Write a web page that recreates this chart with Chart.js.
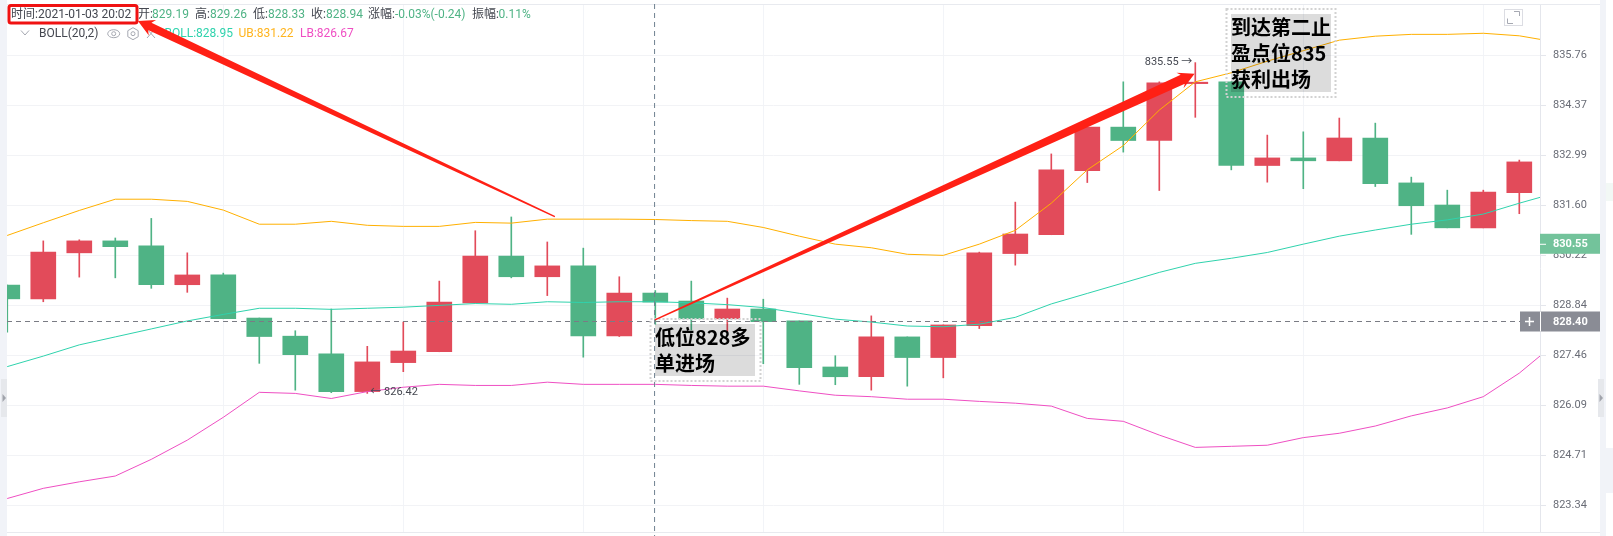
<!DOCTYPE html>
<html>
<head>
<meta charset="utf-8">
<title>BOLL candles</title>
<script src="https://cdn.jsdelivr.net/npm/chart.js@4/dist/chart.umd.min.js"></script>
<style>
html, body { margin: 0; padding: 0; background: #fff; overflow: hidden; }
canvas { display: block; }
</style>
</head>
<body>
<canvas id="klineCanvas" width="1613" height="536"></canvas>
<script>
// candle values, index 0 is the leftmost (half cut off) candle
const opens = [829.41,829.03,830.30,830.63,830.49,829.42,829.69,828.50,828.00,827.51,826.47,827.27,827.57,828.92,830.21,829.64,829.94,828.01,829.19,828.97,828.48,828.75,828.42,827.15,826.88,827.98,827.41,828.29,830.28,830.80,832.57,833.77,833.40,834.97,835.02,832.71,832.92,832.84,833.47,832.23,831.62,830.99,831.96];
const closes = [829.03,830.32,830.63,830.47,829.42,829.69,828.48,827.99,827.49,826.47,827.29,827.59,828.94,830.21,829.64,829.94,828.01,829.19,828.94,828.48,828.75,828.40,827.13,826.88,827.98,827.41,828.31,830.30,830.82,832.59,833.77,833.40,834.99,835.01,832.71,832.92,832.84,833.47,832.21,831.60,830.99,831.98,832.81];
const highs = [829.41,830.63,830.66,830.71,831.25,830.30,829.74,828.50,828.15,828.75,827.72,828.39,829.52,830.91,831.29,830.60,830.43,829.64,829.26,829.52,829.05,829.02,828.42,827.46,828.56,827.98,828.31,830.32,831.70,833.03,833.77,835.02,835.02,835.55,835.02,833.55,833.64,834.02,833.88,832.39,832.03,832.03,832.86];
const lows = [828.11,828.95,829.63,829.61,829.32,829.21,828.48,827.25,826.51,826.44,826.42,827.02,827.57,828.92,829.61,829.12,827.42,827.99,828.33,828.17,828.12,827.24,826.67,826.66,826.51,826.62,826.85,828.21,829.96,830.80,832.24,833.08,832.02,834.04,832.59,832.25,832.07,832.84,832.13,830.81,830.99,830.99,831.38];

// BOLL(20,2), these run one step past both ends of the candles and get clipped
const upperBand = [830.43,830.78,831.13,831.47,831.78,831.78,831.72,831.48,831.09,831.09,831.17,831.06,831.03,831.03,831.14,831.12,831.23,831.23,831.23,831.22,831.19,831.17,831.00,830.76,830.54,830.44,830.26,830.23,830.54,830.92,831.67,832.59,833.26,834.24,835.02,835.27,835.59,835.88,836.17,836.28,836.33,836.33,836.36,836.29,836.12];
const midBand = [826.87,827.16,827.45,827.76,827.98,828.20,828.42,828.60,828.77,828.77,828.74,828.77,828.80,828.85,828.90,828.88,828.95,828.93,828.95,828.95,828.92,828.87,828.79,828.63,828.47,828.39,828.28,828.26,828.33,828.52,828.89,829.18,829.47,829.76,830.01,830.15,830.31,830.54,830.76,830.93,831.09,831.21,831.37,831.67,831.95];
const lowerBand = [823.23,823.52,823.80,823.98,824.14,824.60,825.13,825.76,826.45,826.42,826.28,826.47,826.59,826.67,826.64,826.64,826.73,826.67,826.67,826.67,826.64,826.62,826.62,826.49,826.37,826.33,826.26,826.26,826.20,826.15,826.07,825.73,825.65,825.27,824.93,824.96,824.99,825.20,825.32,825.52,825.80,826.02,826.33,826.98,827.80];

const priceTicks = [835.76,834.37,832.99,831.60,830.22,828.84,827.46,826.09,824.71,823.34];
const timeTicks = [6,11,16,21,26,31,36,41];
const lastPrice = 830.55;
const crossPrice = 828.40;
const crossIndex = 17.98;
const maxMark = { index: 33, price: 835.55 };
const minMark = { index: 10, price: 826.42 };
// [tail index, tail price, tip index, tip price]
const arrowLines = [
    [15.21, 831.30, 3.63, 836.70],
    [17.99, 828.45, 32.98, 835.24],
];
const arrowNecks = [4, 5];

const RED = "#e24b5a";
const GREEN = "#4fb385";
const UI_FONT = 'Roboto, "Noto Sans CJK SC", sans-serif';
const NOTE_FONT = 'bold 20px "Noto Sans CJK SC", sans-serif';

const candleColors = opens.map((o, i) => (closes[i] >= o ? RED : GREEN));
const bandPoints = (values) => values.map((y, i) => ({ x: i - 1, y }));

function drawText(ctx, text, x, y, color, font, align) {
    ctx.fillStyle = color;
    ctx.font = font || "12px " + UI_FONT;
    ctx.textAlign = align || "left";
    ctx.textBaseline = "middle";
    ctx.fillText(text, x, y);
}

function drawNote(ctx, lines, fill, border) {
    // the grey note sits on the chart like a marker, candles show through it
    ctx.save();
    ctx.globalCompositeOperation = "multiply";
    ctx.fillStyle = "#dcdcdc";
    ctx.fillRect(fill.x, fill.y, fill.w, fill.h);
    ctx.restore();
    ctx.save();
    ctx.strokeStyle = "#d2d2d2";
    ctx.lineWidth = 2;
    ctx.setLineDash([2, 2]);
    ctx.strokeRect(border.x, border.y, border.w, border.h);
    ctx.restore();
    lines.forEach((line, i) => {
        drawText(ctx, line, fill.x, fill.y + 13 + i * 26, "#000", NOTE_FONT);
    });
}

function drawArrow(ctx, x0, y0, x1, y1, neck) {
    const len = Math.hypot(x1 - x0, y1 - y0);
    const ux = (x1 - x0) / len, uy = (y1 - y0) / len;
    const nx = -uy, ny = ux;
    const at = (along, side) => [x1 - ux * along + nx * side, y1 - uy * along + ny * side];
    const pts = [
        [x0 + nx * 0.6, y0 + ny * 0.6],
        at(13, neck), at(16, 8.5), [x1, y1], at(16, -8.5), at(13, -neck),
        [x0 - nx * 0.6, y0 - ny * 0.6],
    ];
    ctx.fillStyle = "#ff2015";
    ctx.beginPath();
    pts.forEach((p, i) => (i ? ctx.lineTo(p[0], p[1]) : ctx.moveTo(p[0], p[1])));
    ctx.closePath();
    ctx.fill();
}

function drawHeader(ctx) {
    const grey = "#444750";
    drawText(ctx, "时间:2021-01-03 20:02", 11, 15, grey);
    [
        ["开:", 138, "829.19", 152],
        ["高:", 195, "829.26", 210],
        ["低:", 253, "828.33", 268],
        ["收:", 311, "828.94", 326],
        ["涨幅:", 368, "-0.03%(-0.24)", 395],
        ["振幅:", 472, "0.11%", 498.5],
    ].forEach((item) => {
        drawText(ctx, item[0], item[1], 15, grey);
        drawText(ctx, item[2], item[3], 15, GREEN);
    });
    drawText(ctx, "BOLL(20,2)", 39, 33.5, grey);
    drawText(ctx, "BOLL:828.95", 164.5, 33.5, "#2fd3ad");
    drawText(ctx, "UB:831.22", 238.5, 33.5, "#ffb41e");
    drawText(ctx, "LB:826.67", 300, 33.5, "#ef4fc3");

    ctx.strokeStyle = "#a6a9b2";
    ctx.lineWidth = 1;
    ctx.beginPath(); // chevron
    ctx.moveTo(21, 30.5); ctx.lineTo(25, 35); ctx.lineTo(29, 30.5);
    ctx.stroke();
    ctx.beginPath(); // eye
    ctx.ellipse(113.7, 33.7, 6, 4, 0, 0, Math.PI * 2);
    ctx.stroke();
    ctx.beginPath();
    ctx.arc(113.7, 33.7, 2, 0, Math.PI * 2);
    ctx.stroke();
    ctx.beginPath(); // settings
    for (let i = 0; i < 6; i++) {
        const a = Math.PI / 6 + i * Math.PI / 3;
        ctx.lineTo(133 + 6 * Math.cos(a), 33.7 + 6 * Math.sin(a));
    }
    ctx.closePath();
    ctx.stroke();
    ctx.beginPath();
    ctx.arc(133, 33.7, 2, 0, Math.PI * 2);
    ctx.stroke();
    ctx.beginPath(); // close icon, the arrow covers most of it
    ctx.moveTo(147, 29); ctx.lineTo(155, 38);
    ctx.moveTo(155, 29); ctx.lineTo(147, 38);
    ctx.stroke();

    ctx.strokeStyle = "#f01212"; // the hand drawn box around the time
    ctx.lineWidth = 3;
    ctx.beginPath();
    ctx.roundRect(9, 5.5, 128, 17.5, 2);
    ctx.stroke();
}

const chromePlugin = {
    id: "chrome",
    beforeDraw(chart) {
        const ctx = chart.ctx;
        ctx.save();
        ctx.fillStyle = "#fff";
        ctx.fillRect(0, 0, 1613, 536);
        ctx.fillStyle = "#f1f3f8";
        ctx.fillRect(0, 0, 7, 536);
        ctx.fillRect(1600, 0, 6, 536);
        ctx.fillRect(1606, 448, 7, 45);
        ctx.fillStyle = "#f2f8f5";
        ctx.fillRect(1606, 183, 7, 18);
        ctx.restore();
    },
    afterDraw(chart) {
        const ctx = chart.ctx;
        const x = chart.scales.x, y = chart.scales.y;
        const area = chart.chartArea;
        ctx.save();

        ctx.fillStyle = "#e8eaef";
        ctx.fillRect(7, 4, 1593, 1);
        ctx.fillRect(7, 532, 1593, 1);

        // side handles
        [[1, 6], [1598, 6]].forEach((h) => {
            ctx.fillStyle = "#e6e8ec";
            ctx.fillRect(h[0], 379, h[1], 38);
            ctx.fillStyle = "#a0a3ab";
            ctx.beginPath();
            ctx.moveTo(h[0] + 1.5, 394);
            ctx.lineTo(h[0] + 5, 398);
            ctx.lineTo(h[0] + 1.5, 402);
            ctx.fill();
        });

        // crosshair
        const crossX = x.getPixelForValue(crossIndex);
        const crossY = Math.floor(y.getPixelForValue(crossPrice)) + 0.5;
        ctx.save();
        ctx.lineWidth = 1;
        ctx.setLineDash([5, 4]);
        ctx.strokeStyle = "#6f8291";
        ctx.beginPath();
        ctx.moveTo(crossX, area.top);
        ctx.lineTo(crossX, 536);
        ctx.stroke();
        ctx.strokeStyle = "#7a7c84";
        ctx.beginPath();
        ctx.moveTo(area.left, crossY);
        ctx.lineTo(area.right, crossY);
        ctx.stroke();
        ctx.restore();

        // high and low marks
        const maxX = x.getPixelForValue(maxMark.index), maxY = y.getPixelForValue(maxMark.price);
        drawText(ctx, maxMark.price.toFixed(2) + " →", maxX - 3, maxY, "#444750", "11px " + UI_FONT, "right");
        const minX = x.getPixelForValue(minMark.index), minY = y.getPixelForValue(minMark.price);
        drawText(ctx, "← " + minMark.price.toFixed(2), minX + 3, minY - 1, "#444750", "11px " + UI_FONT);

        // last price tag
        const lastY = y.getPixelForValue(lastPrice);
        ctx.fillStyle = "#73c39b";
        ctx.fillRect(1540, lastY - 10, 60, 20);
        ctx.fillStyle = "#fff";
        ctx.fillRect(1540, lastY, 6, 1);
        drawText(ctx, lastPrice.toFixed(2), 1553, lastY + 0.5, "#fff", "bold 11px " + UI_FONT);

        // crosshair price tag
        ctx.fillStyle = "#8a8c95";
        ctx.fillRect(1520, crossY - 10, 80, 20);
        ctx.fillStyle = "#fff";
        ctx.fillRect(1540, crossY - 10, 1, 20);
        ctx.fillRect(1525, crossY - 0.75, 9, 1.5);
        ctx.fillRect(1528.75, crossY - 4.5, 1.5, 9);
        drawText(ctx, crossPrice.toFixed(2), 1553, crossY + 0.5, "#fff", "bold 11px " + UI_FONT);

        // fullscreen button
        ctx.strokeStyle = "#dcdde3";
        ctx.lineWidth = 1;
        ctx.strokeRect(1504.5, 9.5, 18, 16);
        ctx.strokeStyle = "#a6a9b2";
        ctx.beginPath();
        ctx.moveTo(1514, 11.5); ctx.lineTo(1519.5, 11.5); ctx.lineTo(1519.5, 16);
        ctx.moveTo(1507.5, 18.5); ctx.lineTo(1507.5, 23.5); ctx.lineTo(1513, 23.5);
        ctx.stroke();

        drawHeader(ctx);

        drawNote(ctx, ["低位828多", "单进场"],
            { x: 655, y: 324, w: 100, h: 52 }, { x: 650.5, y: 319, w: 110, h: 62 });
        drawNote(ctx, ["到达第二止", "盈点位835", "获利出场"],
            { x: 1231, y: 14, w: 100, h: 78 }, { x: 1226.5, y: 9, w: 109, h: 88 });

        arrowLines.forEach((a, i) => {
            drawArrow(ctx,
                x.getPixelForValue(a[0]), y.getPixelForValue(a[1]),
                x.getPixelForValue(a[2]), y.getPixelForValue(a[3]), arrowNecks[i]);
        });
        ctx.restore();
    },
};

new Chart(document.getElementById("klineCanvas"), {
    type: "bar",
    plugins: [chromePlugin],
    data: {
        datasets: [
            {
                type: "line", label: "UB", order: 0,
                data: bandPoints(upperBand),
                borderColor: "#ffb000", borderWidth: 1, pointRadius: 0, tension: 0,
            },
            {
                type: "line", label: "BOLL", order: 0,
                data: bandPoints(midBand),
                borderColor: "#2fd3ad", borderWidth: 1, pointRadius: 0, tension: 0,
            },
            {
                type: "line", label: "LB", order: 0,
                data: bandPoints(lowerBand),
                borderColor: "#ef4fc3", borderWidth: 1, pointRadius: 0, tension: 0,
            },
            {
                label: "body", order: 1, grouped: false, barThickness: 25,
                data: opens.map((o, i) => ({ x: i, y: [o, closes[i]] })),
                backgroundColor: candleColors,
            },
            {
                label: "wick", order: 2, grouped: false, barThickness: 1,
                data: lows.map((l, i) => ({ x: i, y: [l, highs[i]] })),
                backgroundColor: candleColors,
            },
        ],
    },
    options: {
        responsive: false,
        animation: false,
        events: [],
        layout: { padding: { left: 7, top: 4, right: 13, bottom: 4 } },
        plugins: { legend: { display: false }, tooltip: { enabled: false } },
        scales: {
            x: {
                type: "linear", offset: false, bounds: "data",
                min: -0.008, max: 42.575,
                grid: { offset: false, color: "#f2f4f8", drawTicks: false },
                border: { display: false },
                ticks: { display: false },
                afterBuildTicks: (s) => { s.ticks = timeTicks.map((value) => ({ value })); },
                afterFit: (s) => { s.height = 0; },
            },
            y: {
                position: "right", bounds: "data", offset: false,
                beginAtZero: false,
                min: 822.595, max: 837.168,
                grid: { color: "#f2f3f6", tickColor: "#e4e6ec", tickLength: 6 },
                border: { color: "#e4e6ec" },
                ticks: {
                    color: "#696c76",
                    font: { family: UI_FONT, size: 11 },
                    padding: 7,
                    autoSkip: false,
                    callback: (v) => v.toFixed(2),
                },
                afterBuildTicks: (s) => { s.ticks = priceTicks.map((value) => ({ value })); },
                // labels sit well inside the range, so no room is needed for them above and below
                afterFit: (s) => { s.width = 60; s.paddingTop = 0; s.paddingBottom = 0; },
            },
        },
    },
});
</script>
</body>
</html>
